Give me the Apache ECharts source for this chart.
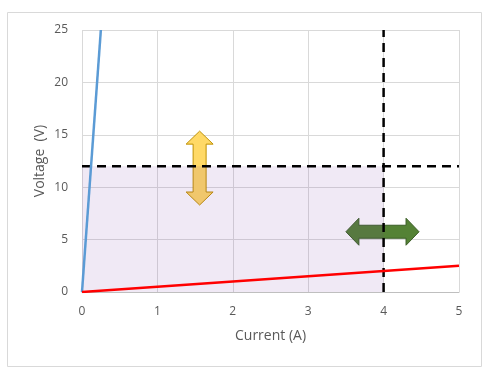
<!DOCTYPE html>
<html>
<head>
<meta charset="utf-8">
<script src="https://cdn.jsdelivr.net/npm/echarts@6/dist/echarts.min.js"></script>
<style>
  html, body { margin: 0; padding: 0; background: #fff; }
  #main { width: 493px; height: 378px; }
</style>
</head>
<body>
<div id="main"></div>
<script>
// axis ranges and ticks
var xTicks = [0, 1, 2, 3, 4, 5];
var yTicks = [0, 5, 10, 15, 20, 25];

// the two load lines
var blueLine = [[0, 0], [0.25, 25]];
var redLine = [[0, 0], [5, 2.5]];

// operating limits (dashed) and the shaded region under them
var limitCurrent = 4;
var limitVoltage = 12;
var shadedArea = [[0, 12], [4, 12]];

// arrows: [x1, y1, x2, y2] in data units
var yellowArrow = [1.56, 8.3, 1.56, 15.35];
var greenArrow = [3.5, 5.75, 4.47, 5.75];

var textColor = "#595959";
var fontFamily = "'Open Sans', 'Liberation Sans', sans-serif";

function arrowItem(params, api){
	var p1 = api.coord([api.value(0), api.value(1)]);
	var p2 = api.coord([api.value(2), api.value(3)]);
	var dx = p2[0] - p1[0], dy = p2[1] - p1[1];
	var len = Math.sqrt(dx*dx + dy*dy);
	var ux = dx/len, uy = dy/len;
	var nx = -uy, ny = ux;
	var shaft = 6.5, head = 13.5, hl = 13;
	function pt(t, w){
		return [p1[0] + ux*t + nx*w, p1[1] + uy*t + ny*w];
	}
	var pts = [
		pt(0, 0), pt(hl, head), pt(hl, shaft), pt(len - hl, shaft), pt(len - hl, head),
		pt(len, 0), pt(len - hl, -head), pt(len - hl, -shaft), pt(hl, -shaft), pt(hl, -head)
	];
	var c = params.seriesIndex === 0 ? ["#ffd966", "#bf9000"] : ["#548235", "#3b5e26"];
	return {
		type: "polygon",
		shape: { points: pts },
		style: { fill: c[0], stroke: c[1], lineWidth: 1 }
	};
}

var chart = echarts.init(document.getElementById("main"));
chart.setOption({
	animation: false,
	grid: { left: 82, right: 34, top: 30, bottom: 86 },
	graphic: [{
		type: "rect",
		shape: { x: 7.5, y: 12.5, width: 474, height: 354 },
		style: { fill: "none", stroke: "#d9d9d9", lineWidth: 1 },
		silent: true
	}],
	xAxis: {
		type: "value",
		min: xTicks[0], max: xTicks[xTicks.length - 1], interval: 1,
		name: "Current (A)", nameLocation: "middle", nameGap: 37, nameMoveOverlap: false,
		nameTextStyle: { color: textColor, fontSize: 14, fontFamily: fontFamily },
		axisLine: { show: true, lineStyle: { color: "#bfbfbf", width: 1 } },
		axisTick: { show: false },
		axisLabel: { color: textColor, fontSize: 12, fontFamily: fontFamily, margin: 14 },
		splitLine: { show: true, lineStyle: { color: "#d9d9d9", width: 1 } }
	},
	yAxis: {
		type: "value",
		min: yTicks[0], max: yTicks[yTicks.length - 1], interval: 5,
		name: "Voltage  (V)", nameLocation: "middle", nameGap: 35, nameMoveOverlap: false,
		nameTextStyle: { color: textColor, fontSize: 14, fontFamily: fontFamily },
		axisLine: { show: false },
		axisTick: { show: false },
		axisLabel: { color: textColor, fontSize: 12, fontFamily: fontFamily, margin: 14 },
		splitLine: { show: true, lineStyle: { color: "#d9d9d9", width: 1 } }
	},
	series: [
		{ type: "custom", renderItem: arrowItem, data: [yellowArrow], z: 1, silent: true },
		{ type: "custom", renderItem: arrowItem, data: [greenArrow], z: 1, silent: true },
		{
			type: "line", data: shadedArea, symbol: "none", z: 2, silent: true,
			lineStyle: { width: 0 },
			areaStyle: { color: "rgba(112,48,160,0.15)", origin: "start" }
		},
		{
			type: "line", data: [[limitCurrent, 0], [limitCurrent, 25]], symbol: "none", z: 3,
			lineStyle: { color: "#000", width: 2.5, type: [9, 6] }
		},
		{
			type: "line", data: [[0, limitVoltage], [5, limitVoltage]], symbol: "none", z: 3,
			lineStyle: { color: "#000", width: 2.5, type: [9, 6] }
		},
		{
			type: "line", data: blueLine, symbol: "none", z: 4,
			lineStyle: { color: "#5b9bd5", width: 2.5 }
		},
		{
			type: "line", data: redLine, symbol: "none", z: 4,
			lineStyle: { color: "#ff0000", width: 2.5 }
		}
	]
});
</script>
</body>
</html>
